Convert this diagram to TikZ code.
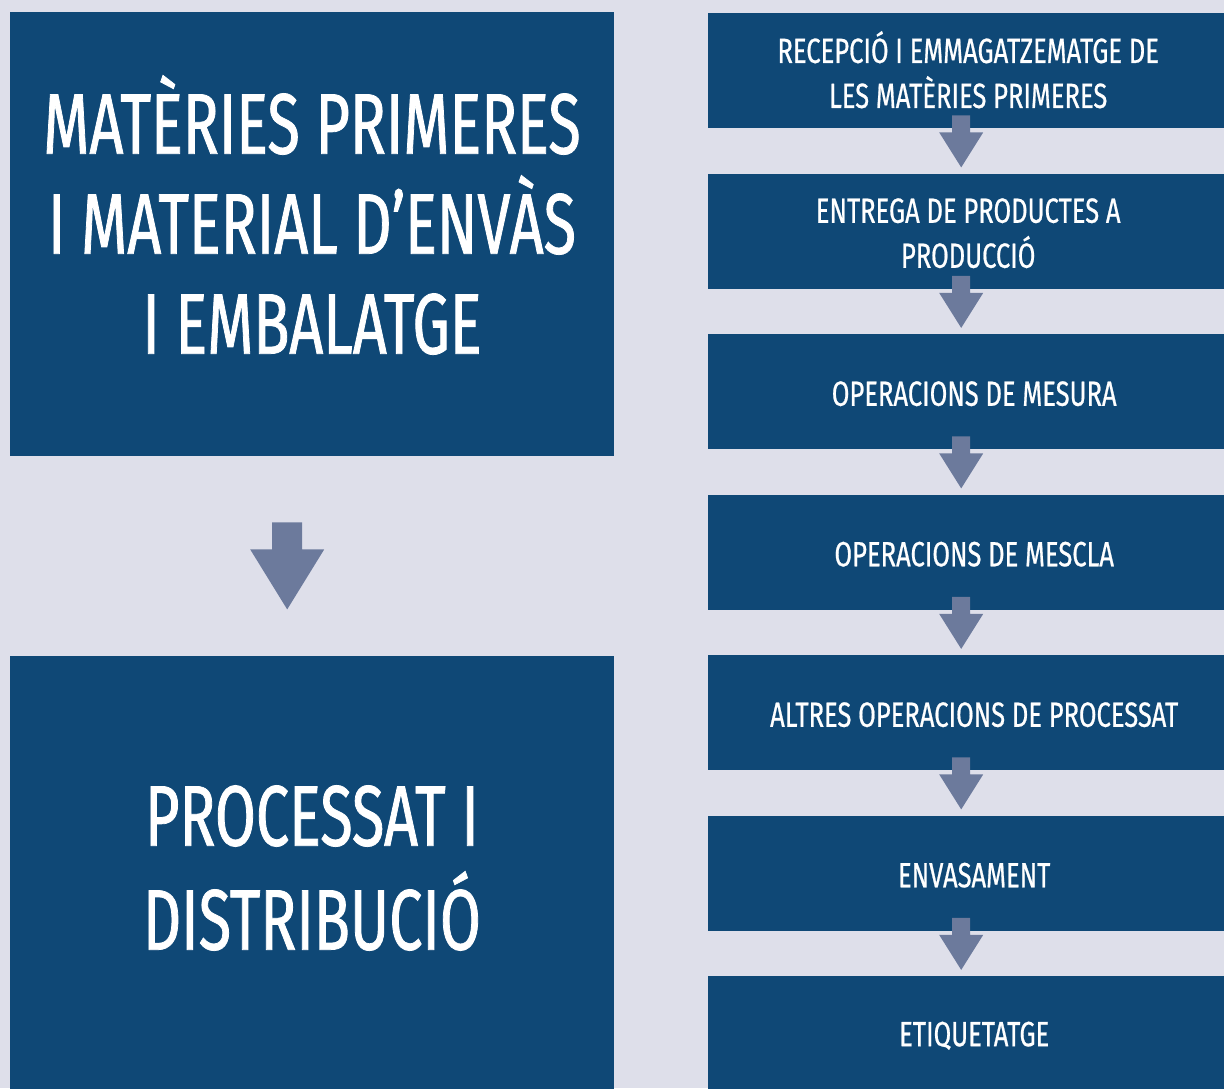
\documentclass[tikz,border=0pt]{standalone}
\usepackage{fontspec}
\setmainfont{Fira Sans}
\newfontfamily\bigfont{Fira Sans}[FakeStretch=0.69, FakeBold=0.9]
\newfontfamily\stepfont{Fira Sans}[FakeStretch=0.73, FakeBold=0.6]
\usetikzlibrary{calc}
\definecolor{bgc}{HTML}{DEDFEA}
\definecolor{boxc}{HTML}{0F4876}
\definecolor{arrc}{HTML}{6C7A9C}
\begin{document}
\begin{tikzpicture}[x=1pt,y=-1pt,
  bigbox/.style={fill=boxc, draw=none, inner sep=0pt, anchor=north west, minimum width=604pt},
  stepbox/.style={fill=boxc, draw=none, inner sep=0pt, anchor=north west, minimum width=520pt, minimum height=115pt},
  bigtxt/.style={text=white, align=center, font=\bigfont\fontsize{86}{100}\selectfont, inner sep=0pt},
  steptxt/.style={text=white, align=center, font=\stepfont\fontsize{35}{45}\selectfont, inner sep=0pt},
  arrowfill/.style={fill=arrc, draw=none}]
\useasboundingbox (0,0) rectangle (1224,1088);
\clip (0,0) rectangle (1224,1088);
\fill[bgc] (0,0) rectangle (1224,1088);
% left boxes
\node[bigbox, minimum height=444pt] (L1) at (10,12) {};
\node[bigbox, minimum height=450pt] (L2) at (10,656) {};
\node[bigtxt] (L1t) at (312,215) {MATÈRIES PRIMERES\\I MATERIAL D’ENVÀS\\I EMBALATGE};
\node[bigtxt, font=\bigfont\fontsize{86}{104}\selectfont] (L2t) at (312,868) {PROCESSAT I\\DISTRIBUCIÓ};
% big arrow
\fill[arrowfill] ($(L1.south)+(-40,66)$) -- ++(30,0) -- ++(0,27) -- ++(22,0) -- ++(-37,60) -- ++(-37,-60) -- ++(22,0) -- cycle;
% right boxes
\foreach \i/\t/\dx/\dy in {1/{RECEPCIÓ I EMMAGATZEMATGE DE\\LES MATÈRIES PRIMERES}/0/-1,
                   2/{ENTREGA DE PRODUCTES A\\PRODUCCIÓ}/0/2,
                   3/{OPERACIONS DE MESURA}/6/2,
                   4/{OPERACIONS DE MESCLA}/6/2,
                   5/{ALTRES OPERACIONS DE PROCESSAT}/6/2,
                   6/{ENVASAMENT}/6/2,
                   7/{ETIQUETATGE}/6/2}{
  \node[stepbox] (R\i) at (708,{13+160.5*(\i-1)}) {};
  \node[steptxt] (R\i t) at ($(R\i.center)+(\dx,\dy)$) {\t};
}
% small arrows
\foreach \i in {1,...,6}{
  \fill[arrowfill] ($(R\i.south)+(-16,-13)$) -- ++(18,0) -- ++(0,17) -- ++(13,0) -- ++(-22,35) -- ++(-22,-35) -- ++(13,0) -- cycle;
}
\end{tikzpicture}
\end{document}
